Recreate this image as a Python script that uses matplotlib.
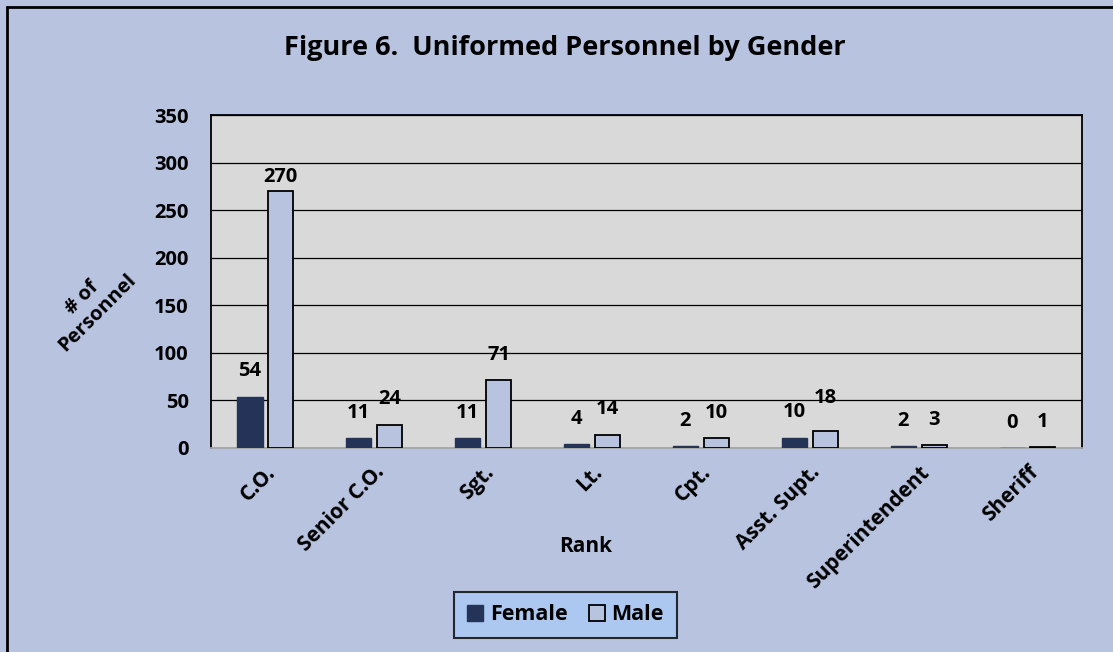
import matplotlib.pyplot as plt
import numpy as np
from matplotlib.patches import Rectangle

ranks = ["C.O.", "Senior C.O.", "Sgt.", "Lt.", "Cpt.", "Asst. Supt.", "Superintendent", "Sheriff"]
female = [54, 11, 11, 4, 2, 10, 2, 0]
male = [270, 24, 71, 14, 10, 18, 3, 1]

FONT = "Open Sans"
BG = "#B8C3E0"
NAVY = "#243358"

plt.rcParams["font.family"] = [FONT, "DejaVu Sans"]
plt.rcParams["font.weight"] = "bold"

fig = plt.figure(figsize=(11.13, 6.52), dpi=100, facecolor=BG)
ax = fig.add_axes([0.1896, 0.3129, 0.7825, 0.5107])
ax.set_facecolor("#D9D9D9")

x = np.arange(len(ranks))
w = 0.23
off = 0.142
ax.bar(x - off, female, w, color=NAVY, edgecolor=NAVY, lw=1, zorder=3, label="Female")
ax.bar(x + off, male, w, color=BG, edgecolor="black", lw=1.3, zorder=3, label="Male")

# label offsets in pixels above bar tops
f_off = [26, 25, 25, 25, 25, 26, 25, 25]
m_off = [14, 26, 25, 26, 25, 33, 25, 25]
for i in range(len(ranks)):
    ax.annotate(str(female[i]), (x[i] - off, female[i]), xytext=(0, f_off[i]),
                textcoords="offset pixels", ha="center", va="center", fontsize=14.5, fontweight="bold")
    ax.annotate(str(male[i]), (x[i] + off, male[i]), xytext=(0, m_off[i]),
                textcoords="offset pixels", ha="center", va="center", fontsize=14.5, fontweight="bold")

ax.set_xlim(-0.5, len(ranks) - 0.5)
ax.set_ylim(0, 350)
ax.set_yticks(np.arange(0, 351, 50))
ax.yaxis.grid(True, color="black", lw=0.9, zorder=1)
ax.set_axisbelow(True)
ax.tick_params(axis="y", length=0, pad=16, labelsize=14.5)
ax.tick_params(axis="x", length=0, pad=10, labelsize=15)
for lab in ax.get_yticklabels():
    lab.set_fontweight("bold")
ax.set_xticks(x)
ax.set_xticklabels(ranks, rotation=45, ha="right", va="top", rotation_mode="anchor", fontweight="bold")
for s in ["left", "top", "right"]:
    ax.spines[s].set_color("black")
    ax.spines[s].set_linewidth(1.3)
ax.spines["bottom"].set_color("#A6A6A6")
ax.spines["bottom"].set_linewidth(1.3)

fig.text(586 / 1113, 1 - 547 / 652, "Rank", ha="center", va="center", fontsize=15, fontweight="bold")
fig.text(90 / 1113, 1 - 305 / 652, "# of\nPersonnel", rotation=45, ha="center", va="center",
         fontsize=14.5, fontweight="bold", linespacing=1.1)

fig.text(565 / 1113, 1 - 48 / 652, "Figure 6.  Uniformed Personnel by Gender", ha="center", va="center",
         fontsize=19.5, fontweight="bold")

leg = fig.legend(loc="center", bbox_to_anchor=(565.5 / 1113, 1 - 615 / 652), ncol=2, frameon=True,
                 fontsize=15.5, handlelength=0.75, handleheight=0.75, handletextpad=0.3,
                 columnspacing=1.0, borderpad=0.6, borderaxespad=0, fancybox=False)
leg.get_frame().set_facecolor("#A9C9F5")
leg.get_frame().set_edgecolor("black")
leg.get_frame().set_linewidth(1.5)
for t in leg.get_texts():
    t.set_fontweight("bold")

fig.patches.append(Rectangle((7 / 1113, -0.1), 1.2, 1.1 - 7 / 652, transform=fig.transFigure,
                             fill=False, edgecolor="black", lw=2, zorder=0))

fig.savefig("out.png", dpi=100, facecolor=BG)
